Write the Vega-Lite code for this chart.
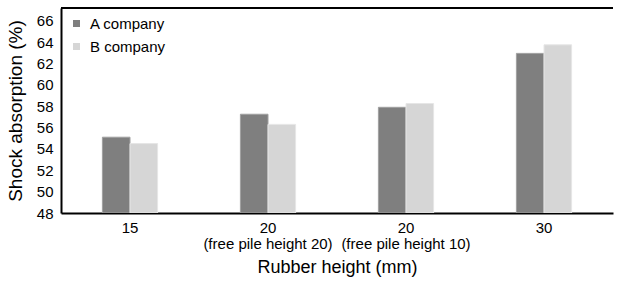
{
  "$schema": "https://vega.github.io/schema/vega-lite/v6.json",
  "width": 552,
  "height": 205,
  "autosize": "none",
  "padding": {"left": 61, "top": 8, "right": 4, "bottom": 69},
  "background": "white",
  "config": {
    "view": {"stroke": null},
    "font": "Liberation Sans",
    "axisY": {"labelOverlap": false, "values": [48, 50, 52, 54, 56, 58, 60, 62, 64, 66]}
  },
  "data": {
    "values": [
      {"height": "15", "company": "A company", "value": 55.1},
      {"height": "15", "company": "B company", "value": 54.5},
      {"height": "20|(free pile height 20)", "company": "A company", "value": 57.25},
      {"height": "20|(free pile height 20)", "company": "B company", "value": 56.3},
      {"height": "20|(free pile height 10)", "company": "A company", "value": 57.9},
      {"height": "20|(free pile height 10)", "company": "B company", "value": 58.25},
      {"height": "30", "company": "A company", "value": 62.95},
      {"height": "30", "company": "B company", "value": 63.75}
    ]
  },
  "layer": [
    {
      "mark": {"type": "bar", "strokeWidth": 1, "clip": true},
      "encoding": {
        "x": {
          "field": "height", "type": "nominal", "sort": null,
          "scale": {"paddingInner": 0.6, "paddingOuter": 0.3},
          "axis": {
            "title": "Rubber height (mm)",
            "titleFontSize": 18, "titleFontWeight": "normal", "titleColor": "black", "titlePadding": 7,
            "labelExpr": "split(datum.label, '|')",
            "labelAngle": 0, "labelFontSize": 15, "labelColor": "black", "labelPadding": 7, "labelLineHeight": 16,
            "labelOverlap": false,
            "ticks": false, "domainColor": "black", "domainWidth": 2
          }
        },
        "xOffset": {"field": "company", "type": "nominal", "scale": {"paddingInner": 0}},
        "y": {
          "field": "value", "type": "quantitative",
          "scale": {"domain": [48, 67.2], "zero": false, "nice": false},
          "axis": {
            "title": "Shock absorption (%)",
            "titleFontSize": 19, "titleFontWeight": "normal", "titleColor": "black", "titlePadding": 11,
            "values": [48, 50, 52, 54, 56, 58, 60, 62, 64, 66],
            "labelOverlap": false,
            "grid": false, "ticks": false, "labelFontSize": 15, "labelColor": "black", "labelPadding": 8,
            "domainColor": "black", "domainWidth": 2
          }
        },
        "y2": {"datum": 48},
        "fill": {
          "field": "company", "type": "nominal",
          "scale": {"domain": ["A company", "B company"], "range": ["#7f7f7f", "#d6d6d6"]},
          "legend": {
            "title": null, "orient": "top-left", "offset": 8,
            "symbolType": "square", "symbolSize": 49, "symbolStrokeWidth": 0,
            "labelFontSize": 15, "labelColor": "black", "rowPadding": 7, "labelOffset": 6
          }
        },
        "stroke": {
          "field": "company", "type": "nominal",
          "scale": {"domain": ["A company", "B company"], "range": ["#a0a0a0", "#e6e6e6"]},
          "legend": null
        }
      }
    },
    {
      "mark": {"type": "rule", "color": "black", "strokeWidth": 2},
      "encoding": {
        "y": {
          "datum": 67.2,
          "axis": {
            "title": "Shock absorption (%)",
            "titleFontSize": 19, "titleFontWeight": "normal", "titleColor": "black", "titlePadding": 11,
            "values": [48, 50, 52, 54, 56, 58, 60, 62, 64, 66],
            "labelOverlap": false,
            "grid": false, "ticks": false, "labelFontSize": 15, "labelColor": "black", "labelPadding": 8,
            "domainColor": "black", "domainWidth": 2
          }
        }
      }
    }
  ]
}
